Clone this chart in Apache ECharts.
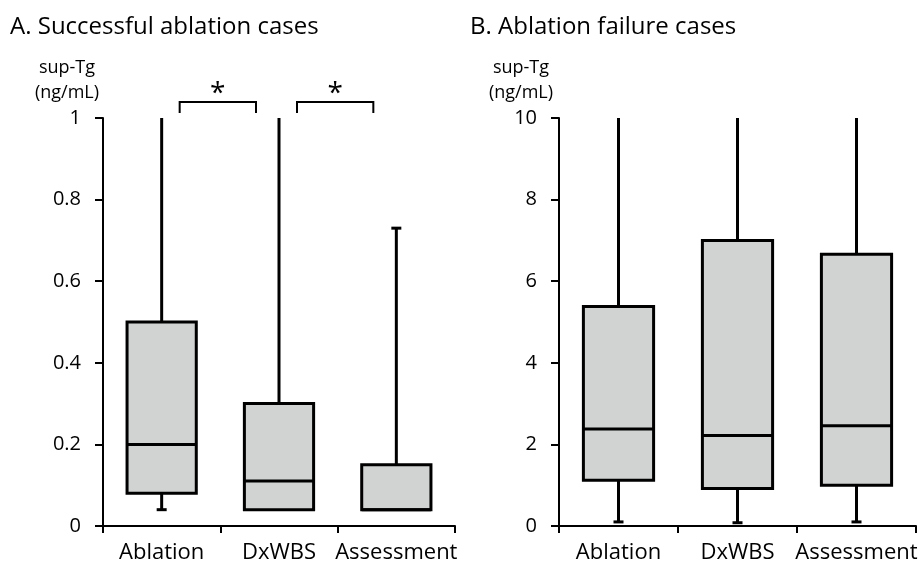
<!DOCTYPE html>
<html lang="en">
<head>
    <meta charset="UTF-8">
    <title>sup-Tg boxplots</title>
    <style>
        * { padding: 0; margin: 0; }
        body, html { width: 100%; height: 100%; background: #fff; }
        #main { width: 922px; height: 568px; }
    </style>
</head>
<body>
    <div id="main"></div>
    <script src="https://cdn.jsdelivr.net/npm/echarts@6/dist/echarts.min.js"></script>
    <script>
    // categories shared by both panels
    var categories = ['Ablation', 'DxWBS', 'Assessment'];

    // [low, q1, median, q3, high] per category
    var boxA = [
        [0.04, 0.08, 0.20, 0.50, 1.00],
        [0.04, 0.04, 0.11, 0.30, 1.00],
        [0.04, 0.04, 0.04, 0.15, 0.73]
    ];
    var boxB = [
        [0.10, 1.12, 2.38, 5.38, 10],
        [0.08, 0.92, 2.22, 7.00, 10],
        [0.10, 1.00, 2.46, 6.66, 10]
    ];

    // significance brackets in panel A: [from category, to category, label]
    var sigA = [[0, 1, '*'], [1, 2, '*']];

    var yMaxA = 1, yMaxB = 10;
    var font = '"Open Sans", sans-serif';

    var myChart = echarts.init(document.getElementById('main'));

    function boxItem(yMax) {
        return function (params, api) {
            var i = api.value(0);
            var w = api.size([1, 0])[0] * 0.59;
            var lo = api.coord([i, api.value(1)]);
            var q1 = api.coord([i, api.value(2)]);
            var md = api.coord([i, api.value(3)]);
            var q3 = api.coord([i, api.value(4)]);
            var hi = api.coord([i, api.value(5)]);
            var x = q1[0];
            var st = { stroke: '#000', lineWidth: 3, fill: null };
            var kids = [];
            // whiskers
            kids.push({ type: 'line', shape: { x1: x, y1: q3[1], x2: x, y2: hi[1] }, style: st });
            if (api.value(5) < yMax) {
                kids.push({ type: 'line', shape: { x1: x - 5, y1: hi[1], x2: x + 5, y2: hi[1] }, style: st });
            }
            if (api.value(1) < api.value(2)) {
                kids.push({ type: 'line', shape: { x1: x, y1: q1[1], x2: x, y2: lo[1] }, style: st });
                kids.push({ type: 'line', shape: { x1: x - 5, y1: lo[1], x2: x + 5, y2: lo[1] }, style: st });
            }
            // box
            kids.push({
                type: 'rect',
                shape: { x: x - w / 2, y: q3[1], width: w, height: q1[1] - q3[1] },
                style: { fill: '#d1d3d2', stroke: '#000', lineWidth: 3 }
            });
            kids.push({ type: 'line', shape: { x1: x - w / 2, y1: md[1], x2: x + w / 2, y2: md[1] }, style: st });
            return { type: 'group', children: kids };
        };
    }

    function bracketItem(params, api) {
        var a = api.value(0), b = api.value(1);
        var pa = api.coord([a, yMaxA]);
        var pb = api.coord([b, yMaxA]);
        var x1 = pa[0] + 18, x2 = pb[0] - 23;
        var top = pa[1] - 16, leg = pa[1] - 5;
        var st = { stroke: '#000', lineWidth: 2, fill: null };
        return {
            type: 'group',
            children: [
                { type: 'polyline', shape: { points: [[x1, leg], [x1, top], [x2, top], [x2, leg]] }, style: st },
                {
                    type: 'text',
                    style: {
                        x: (x1 + x2) / 2, y: top - 8, text: sigA[params.dataIndex][2],
                        fill: '#000', font: '28px ' + font, align: 'center', verticalAlign: 'middle'
                    }
                }
            ]
        };
    }

    function toData(box) {
        return box.map(function (b, i) { return [i].concat(b); });
    }

    function xAxis(idx) {
        return {
            type: 'category', gridIndex: idx, data: categories,
            axisLine: { lineStyle: { color: '#000', width: 2 } },
            axisTick: { show: true, length: 7, lineStyle: { color: '#000', width: 2 } },
            axisLabel: { color: '#000', fontSize: 22, fontFamily: font, margin: 16, interval: 0 }
        };
    }

    function yAxis(idx, max, interval, shift) {
        return {
            type: 'value', gridIndex: idx, min: 0, max: max, interval: interval,
            name: 'sup-Tg\n(ng/mL)', nameLocation: 'end', nameGap: 13,
            nameTextStyle: { color: '#000', fontSize: 18, fontFamily: font, lineHeight: 25, align: 'center', padding: [0, shift, 0, 0] },
            splitLine: { show: false },
            axisLine: { show: true, lineStyle: { color: '#000', width: 2 } },
            axisTick: { show: true, length: 8, lineStyle: { color: '#000', width: 2 } },
            axisLabel: { color: '#000', fontSize: 20, fontFamily: font, margin: 22 }
        };
    }

    var option = {
        backgroundColor: '#fff',
        animation: false,
        title: [
            { text: 'A. Successful ablation cases', left: 5, top: 10, textStyle: { color: '#000', fontSize: 24, fontWeight: 'normal', fontFamily: font } },
            { text: 'B. Ablation failure cases', left: 465, top: 10, textStyle: { color: '#000', fontSize: 24, fontWeight: 'normal', fontFamily: font } }
        ],
        grid: [
            { left: 103, top: 118, width: 352, bottom: 42 },
            { left: 559, top: 118, width: 357, bottom: 42 }
        ],
        xAxis: [xAxis(0), xAxis(1)],
        yAxis: [yAxis(0, yMaxA, 0.2, 72), yAxis(1, yMaxB, 2, 76)],
        series: [
            { type: 'custom', xAxisIndex: 0, yAxisIndex: 0, renderItem: boxItem(yMaxA), data: toData(boxA), clip: false },
            { type: 'custom', xAxisIndex: 1, yAxisIndex: 1, renderItem: boxItem(yMaxB), data: toData(boxB), clip: false },
            { type: 'custom', xAxisIndex: 0, yAxisIndex: 0, renderItem: bracketItem, data: sigA.map(function (s) { return [s[0], s[1]]; }), clip: false }
        ]
    };
    myChart.setOption(option);
    </script>
</body>
</html>
